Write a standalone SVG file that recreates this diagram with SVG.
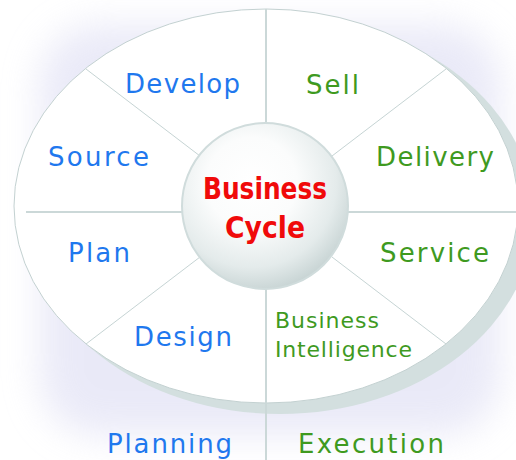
<svg xmlns="http://www.w3.org/2000/svg" width="516" height="460" viewBox="0 0 516 460">
  <defs>
    <filter id="glow" x="-30%" y="-30%" width="160%" height="160%">
      <feGaussianBlur stdDeviation="18"/>
    </filter>
    <radialGradient id="hubGrad" cx="0.42" cy="0.36" r="0.68">
      <stop offset="0" stop-color="#ffffff"/>
      <stop offset="0.4" stop-color="#fbfcfc"/>
      <stop offset="0.75" stop-color="#e4ebeb"/>
      <stop offset="1" stop-color="#c4d1d1"/>
    </radialGradient>
    <style>
      .lbl { font-family: "DejaVu Sans", Verdana, sans-serif; font-size: 26px; }
      .small { font-size: 22px; }
      .blue { fill: #1f78ee; }
      .green { fill: #3f9a1f; }
      .thin { stroke: #c6d4d4; stroke-width: 1; fill: none; }
      .thick { stroke: #cbd8d8; stroke-width: 2; fill: none; }
      .hubtxt { font-family: "DejaVu Sans", "Liberation Sans", sans-serif; font-weight: bold; font-size: 30px; fill: #f00a0a; }
    </style>
  </defs>

  <rect width="516" height="460" fill="#ffffff"/>
  <!-- soft lavender glow -->
  <rect x="40" y="25" width="460" height="410" rx="60" fill="#dcdcf3" opacity="0.6" filter="url(#glow)"/>

  <!-- disc -->
  <g id="disc">
    <ellipse cx="280" cy="216" rx="254" ry="198" fill="#d3dfdf"/>
    <ellipse cx="266" cy="206" rx="252" ry="197" fill="#ffffff" stroke="#c3d1d1" stroke-width="1"/>
  </g>

  <!-- connectors / dividing lines -->
  <g id="connectors">
    <line class="thick" x1="266" y1="9" x2="266" y2="460"/>
    <line class="thick" x1="26" y1="212" x2="516" y2="212"/>
    <line class="thin" x1="86" y1="69" x2="200" y2="156"/>
    <line class="thin" x1="446" y1="69" x2="332" y2="156"/>
    <line class="thin" x1="86" y1="344" x2="200" y2="257"/>
    <line class="thin" x1="446" y1="344" x2="332" y2="257"/>
  </g>

  <g id="hub">
    <circle cx="265" cy="206" r="83" fill="url(#hubGrad)" stroke="#d0dcdc" stroke-width="2"/>
    <text class="hubtxt" x="203" y="199" textLength="124" lengthAdjust="spacingAndGlyphs">Business</text>
    <text class="hubtxt" x="225" y="238" textLength="80" lengthAdjust="spacingAndGlyphs">Cycle</text>
  </g>

  <g id="develop"><text class="lbl blue" x="125" y="93" textLength="115">Develop</text></g>
  <g id="sell"><text class="lbl green" x="306" y="94" textLength="53">Sell</text></g>
  <g id="source"><text class="lbl blue" x="48" y="166" textLength="101">Source</text></g>
  <g id="delivery"><text class="lbl green" x="376" y="166" textLength="118">Delivery</text></g>
  <g id="plan"><text class="lbl blue" x="68" y="262" textLength="62">Plan</text></g>
  <g id="service"><text class="lbl green" x="380" y="262" textLength="109">Service</text></g>
  <g id="design"><text class="lbl blue" x="134" y="346" textLength="98">Design</text></g>
  <g id="business-intelligence">
    <text class="lbl small green" x="275" y="328" textLength="104">Business</text>
    <text class="lbl small green" x="275" y="357" textLength="137">Intelligence</text>
  </g>
  <g id="planning"><text class="lbl blue" x="107" y="453" textLength="125">Planning</text></g>
  <g id="execution"><text class="lbl green" x="298" y="453" textLength="146">Execution</text></g>
</svg>
